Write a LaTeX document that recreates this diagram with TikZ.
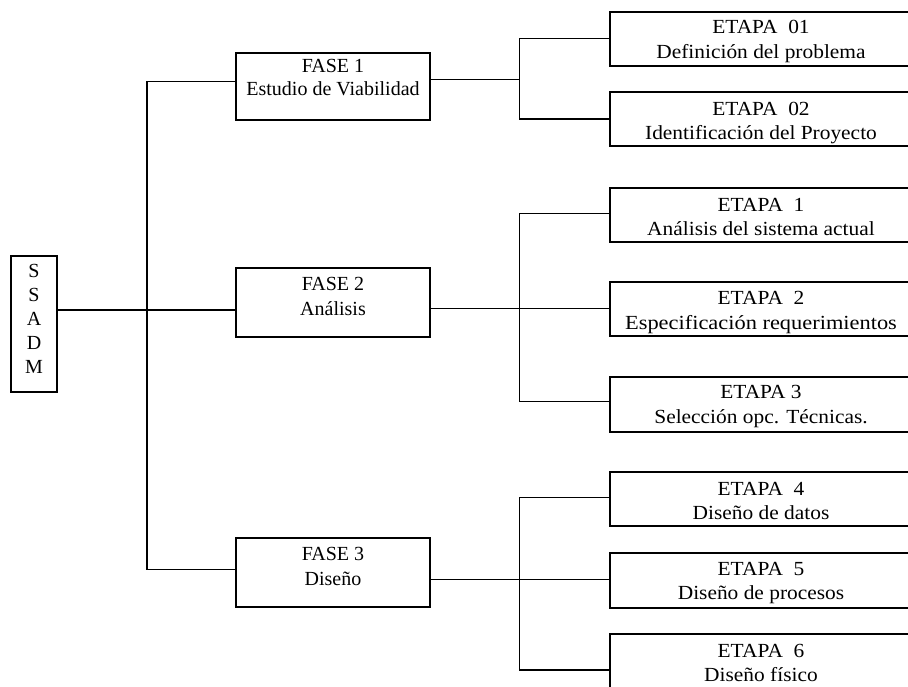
\documentclass[tikz,border=0pt]{standalone}
\usepackage{fontspec}
\setmainfont{Liberation Serif}
\usetikzlibrary{calc}

% box with two centred text lines placed on given baselines
% #1 name, #2 left, #3 top, #4 width, #5 height, #6 first baseline, #7 second baseline, #8/#9 lines
\newcommand\twoline[9]{%
  \node[frame, minimum width=#4pt, minimum height=#5pt] (#1) at (#2,#3) {};
  \path (#1.north) ++(0,#6-#3) node[lbl] (#1a) {#8};
  \path (#1.north) ++(0,#7-#3) node[lbl] (#1b) {#9};
}

\begin{document}
\begin{tikzpicture}[x=1pt,y=-1pt,
  frame/.style={draw=black, line width=2pt, rectangle, inner sep=0pt, outer sep=0pt, anchor=north west},
  wire/.style={draw=black, line width=1.5pt},
  lbl/.style={inner sep=0pt, anchor=base, font=\fontsize{20}{24}\selectfont}]
\useasboundingbox (0,0) rectangle (908,686);
\fill[white] (0,0) rectangle (908,686);
\clip (0,0) rectangle (908,686);

% root
\node[frame, minimum width=46pt, minimum height=136pt] (root) at (11,256) {};
\node[inner sep=0pt, align=center, font=\fontsize{20}{24}\selectfont] (roott) at (34,319) {S\\S\\A\\D\\M};

% phases
\twoline{f1}{236}{52.7}{194}{67.3}{72.5}{95.5}{FASE 1}{Estudio de Viabilidad}
\twoline{f2}{236}{268.3}{194}{69}{290.7}{315}{FASE 2}{Análisis}
\twoline{f3}{236}{538.3}{194}{68.7}{560.7}{585}{FASE 3}{Diseño}

% stages, set slightly wider
\begin{scope}[lbl/.append style={font=\fontsize{20}{24}\selectfont\addfontfeature{FakeStretch=1.07}}]
\twoline{e01}{610}{11.7}{302}{54.3}{33.8}{58.8}{ETAPA\ \ 01}{Definición del problema}
\twoline{e02}{610}{92}{302}{53.5}{115}{139.5}{ETAPA\ \ 02}{Identificación del Proyecto}
\twoline{e1}{610}{188.3}{302}{54}{211}{235.5}{ETAPA\ \ 1}{Análisis del sistema actual}
\twoline{e2}{610}{282.3}{302}{53.7}{304.5}{329}{ETAPA\ \ 2}{\addfontfeature{FakeStretch=1.12}Especificación requerimientos}
\twoline{e3}{610}{376.5}{302}{55}{398.5}{423}{ETAPA 3}{Selección opc. Técnicas.}
\twoline{e4}{610}{471.7}{302}{54.6}{495}{519}{ETAPA\ \ 4}{Diseño de datos}
\twoline{e5}{610}{552.7}{302}{54.8}{575}{599.5}{ETAPA\ \ 5}{Diseño de procesos}
\twoline{e6}{610}{634}{302}{56}{657}{681.5}{ETAPA\ \ 6}{Diseño físico}
\end{scope}

% spine from the root to the phases
\coordinate (s0) at (147,310);
\coordinate (s1) at (147,81.7);
\coordinate (s3) at (147,569.3);
\draw[wire] (root.east |- s0) -- (s0 -| f2.west);
\draw[wire] (s1 -| f1.west) -- (s1) -- (s3) -- (s3 -| f3.west);

% phase 1 bracket
\coordinate (k1) at (519.5,79.3);
\coordinate (k1t) at (519.5,38.3);
\coordinate (k1b) at (519.5,119);
\draw[wire] (f1.east |- k1) -- (k1);
\draw[wire] (k1t -| e01.west) -- (k1t) -- (k1b) -- (k1b -| e02.west);

% phase 2 bracket
\coordinate (k2) at (519.5,308.3);
\coordinate (k2t) at (519.5,213.3);
\coordinate (k2b) at (519.5,401.7);
\draw[wire] (f2.east |- k2) -- (k2 -| e2.west);
\draw[wire] (k2t -| e1.west) -- (k2t) -- (k2b) -- (k2b -| e3.west);

% phase 3 bracket
\coordinate (k3) at (519.5,579.3);
\coordinate (k3t) at (519.5,497.3);
\coordinate (k3b) at (519.5,670);
\draw[wire] (f3.east |- k3) -- (k3 -| e5.west);
\draw[wire] (k3t -| e4.west) -- (k3t) -- (k3b) -- (k3b -| e6.west);
\end{tikzpicture}
\end{document}
